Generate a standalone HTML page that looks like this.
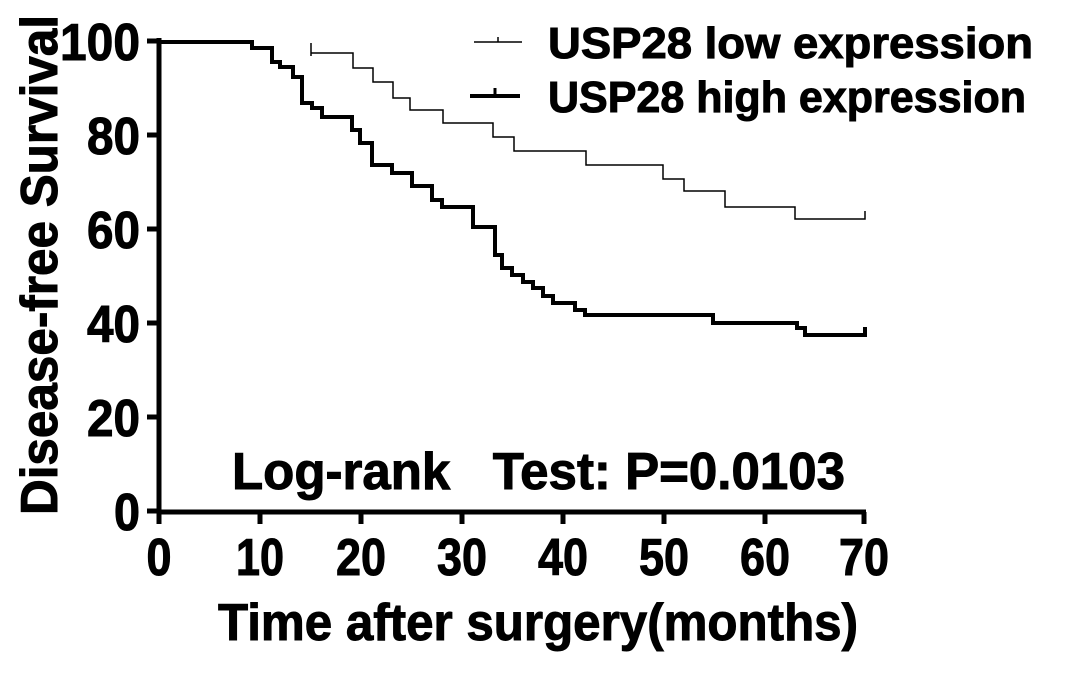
<!DOCTYPE html>
<html><head><style>
body{margin:0;background:#fff;}
svg text{font-family:"Liberation Sans",Arial,sans-serif;font-weight:bold;fill:#000;stroke:#000;stroke-width:1;}
</style></head><body>
<svg width="1065" height="671" viewBox="0 0 1065 671" xmlns="http://www.w3.org/2000/svg">
<rect width="1065" height="671" fill="#fff"/>
<g stroke="#000" stroke-width="5" fill="none">
<line x1="159" y1="38" x2="159" y2="514"/>
<line x1="157" y1="512" x2="866" y2="512"/>
<line x1="147" y1="41" x2="159" y2="41"/>
<line x1="147" y1="135" x2="159" y2="135"/>
<line x1="147" y1="229" x2="159" y2="229"/>
<line x1="147" y1="323" x2="159" y2="323"/>
<line x1="147" y1="417" x2="159" y2="417"/>
<line x1="147" y1="511" x2="159" y2="511"/>
<line x1="159" y1="512" x2="159" y2="524"/>
<line x1="260" y1="512" x2="260" y2="524"/>
<line x1="361" y1="512" x2="361" y2="524"/>
<line x1="462" y1="512" x2="462" y2="524"/>
<line x1="563" y1="512" x2="563" y2="524"/>
<line x1="664" y1="512" x2="664" y2="524"/>
<line x1="765" y1="512" x2="765" y2="524"/>
<line x1="864" y1="512" x2="864" y2="524"/>
</g>
<g font-size="52" text-anchor="end">
<text x="140" y="60" textLength="80" lengthAdjust="spacingAndGlyphs">100</text>
<text x="140" y="154" textLength="53" lengthAdjust="spacingAndGlyphs">80</text>
<text x="140" y="248" textLength="53" lengthAdjust="spacingAndGlyphs">60</text>
<text x="140" y="342" textLength="53" lengthAdjust="spacingAndGlyphs">40</text>
<text x="140" y="436" textLength="53" lengthAdjust="spacingAndGlyphs">20</text>
<text x="140" y="530" textLength="26" lengthAdjust="spacingAndGlyphs">0</text>
</g>
<g font-size="52" text-anchor="middle">
<text x="159" y="575" textLength="25" lengthAdjust="spacingAndGlyphs">0</text>
<text x="260" y="575" textLength="48" lengthAdjust="spacingAndGlyphs">10</text>
<text x="361" y="575" textLength="50" lengthAdjust="spacingAndGlyphs">20</text>
<text x="462" y="575" textLength="50" lengthAdjust="spacingAndGlyphs">30</text>
<text x="563" y="575" textLength="50" lengthAdjust="spacingAndGlyphs">40</text>
<text x="664" y="575" textLength="50" lengthAdjust="spacingAndGlyphs">50</text>
<text x="765" y="575" textLength="50" lengthAdjust="spacingAndGlyphs">60</text>
<text x="864" y="575" textLength="50" lengthAdjust="spacingAndGlyphs">70</text>
</g>
<text x="218" y="640" font-size="52" textLength="640" lengthAdjust="spacingAndGlyphs">Time after surgery(months)</text>
<text transform="translate(57,515) rotate(-90)" font-size="52" textLength="500" lengthAdjust="spacingAndGlyphs">Disease-free Survival</text>
<text x="232" y="489" font-size="52" textLength="613" lengthAdjust="spacingAndGlyphs" xml:space="preserve">Log-rank   Test: P=0.0103</text>
<line x1="474" y1="42" x2="522" y2="42" stroke="#000" stroke-width="1.5"/>
<line x1="498" y1="37" x2="498" y2="42" stroke="#000" stroke-width="1.5"/>
<text x="548" y="58" font-size="44" textLength="485" lengthAdjust="spacingAndGlyphs">USP28 low expression</text>
<line x1="470" y1="96" x2="520" y2="96" stroke="#000" stroke-width="4"/>
<line x1="495" y1="88" x2="495" y2="96" stroke="#000" stroke-width="3"/>
<text x="548" y="112" font-size="44" textLength="478" lengthAdjust="spacingAndGlyphs">USP28 high expression</text>
<polyline fill="none" stroke="#000" stroke-width="4" points="
160,42 252,42 252,48 272,48 272,62 280,62 280,67 293,67 293,77 302,77 302,103 312,103 312,108 322,108 322,117 352,117 352,130 360,130 360,143 372,143 372,165 392,165 392,173 412,173 412,186 432,186 432,200 442,200 442,207 473,207 473,227 495,227 495,255 502,255 502,268 512,268 512,275 523,275 523,282 533,282 533,288 543,288 543,296 553,296 553,303 575,303 575,310 585,310 585,315 713,315 713,323 797,323 797,328 805,328 805,335 865,335 865,327"/>
<polyline fill="none" stroke="#000" stroke-width="1.5" points="
311,53 353,53 353,68 373,68 373,82 393,82 393,98 410,98 410,110 443,110 443,123 493,123 493,137 514,137 514,151 586,151 586,165 663,165 663,179 684,179 684,191 725,191 725,207 795,207 795,219 865,219 865,211"/>
<line x1="311" y1="43" x2="311" y2="56" stroke="#000" stroke-width="1.5"/>
</svg>
</body></html>
